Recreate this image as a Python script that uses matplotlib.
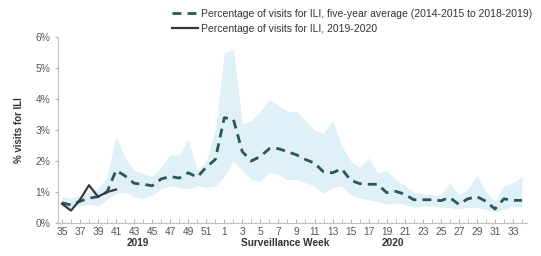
import matplotlib
matplotlib.use("Agg")
import matplotlib.pyplot as plt
import numpy as np

plt.rcParams['font.family'] = ['Liberation Sans', 'DejaVu Sans']

# surveillance weeks, 2019 wk 35 -> 2020 wk 34
weeks = list(range(35, 53)) + list(range(1, 35))

# five-year average (2014-2015 to 2018-2019), % of visits for ILI
avg_5yr = [0.65, 0.58, 0.70, 0.80, 0.85, 1.00, 1.70, 1.52, 1.28, 1.25, 1.20, 1.42,
           1.50, 1.45, 1.62, 1.48, 1.80, 2.05, 3.40, 3.35, 2.30, 2.00, 2.15, 2.40,
           2.40, 2.30, 2.20, 2.05, 1.93, 1.65, 1.62, 1.75, 1.38, 1.27, 1.25, 1.25,
           0.98, 1.02, 0.93, 0.75, 0.75, 0.75, 0.72, 0.82, 0.60, 0.78, 0.85, 0.70,
           0.45, 0.78, 0.73, 0.73]

# range of the five seasons (shaded band)
band_hi = [0.85, 0.80, 0.90, 1.00, 1.10, 1.50, 2.80, 2.10, 1.70, 1.60, 1.50, 1.80,
           2.20, 2.20, 2.70, 1.70, 2.00, 3.00, 5.50, 5.60, 3.20, 3.30, 3.60, 4.00,
           3.80, 3.60, 3.60, 3.30, 3.00, 2.90, 3.30, 2.50, 2.00, 1.80, 2.10, 1.60,
           1.70, 1.40, 1.20, 1.00, 0.95, 0.90, 0.90, 1.30, 0.90, 1.10, 1.55, 1.00,
           0.70, 1.20, 1.30, 1.50]
band_lo = [0.55, 0.50, 0.55, 0.60, 0.55, 0.75, 0.95, 1.00, 0.85, 0.80, 0.90, 1.10,
           1.20, 1.15, 1.10, 1.20, 1.15, 1.20, 1.50, 2.00, 1.70, 1.40, 1.35, 1.65,
           1.55, 1.40, 1.40, 1.30, 1.20, 0.95, 1.15, 1.20, 0.90, 0.80, 0.75, 0.70,
           0.60, 0.65, 0.60, 0.50, 0.55, 0.55, 0.50, 0.50, 0.45, 0.50, 0.50, 0.45,
           0.35, 0.45, 0.55, 0.50]

# current season 2019-2020 (weeks 35-41)
cur_season = [0.62, 0.40, 0.75, 1.22, 0.85, 1.00, 1.08]

x = np.arange(len(weeks))

fig = plt.figure(figsize=(5.41, 2.56), dpi=100)
ax = fig.add_axes([0.107, 0.129, 0.867, 0.726])

ax.fill_between(x, band_lo, band_hi, color='#dff0f6', lw=0)
l1, = ax.plot(x, avg_5yr, color='#2b5756', lw=2.0, dashes=(3.2, 2.2),
              label='Percentage of visits for ILI, five-year average (2014-2015 to 2018-2019)')
l2, = ax.plot(x[:len(cur_season)], cur_season, color='#3a3a3a', lw=1.6,
              label='Percentage of visits for ILI, 2019-2020')

ax.set_xlim(-0.45, 51.55)
ax.set_ylim(0, 6)
ax.set_yticks(np.arange(0, 7))
ax.set_yticklabels(['%d%%' % v for v in range(7)])
ax.set_xticks(x[::2])
ax.set_xticklabels([str(w) for w in weeks[::2]])
ax.set_xticks(x, minor=True)

for s in ['top', 'right']:
    ax.spines[s].set_visible(False)
for s in ['left', 'bottom']:
    ax.spines[s].set_color('#c0c0c0')
    ax.spines[s].set_linewidth(0.8)

ax.tick_params(axis='x', which='both', direction='in', length=3, color='#b0b0b0',
               labelsize=7.4, labelcolor='#555555', pad=3)
ax.tick_params(axis='y', direction='out', length=2.5, color='#b0b0b0',
               labelsize=7.4, labelcolor='#555555', pad=3)

ax.set_ylabel('% visits for ILI', fontsize=7, fontweight='bold', color='#333333', labelpad=8)
fig.text(285 / 541, 1 - 243 / 256, 'Surveillance Week', fontsize=7.2, fontweight='bold',
         color='#333333', ha='center', va='center')
fig.text(138 / 541, 1 - 243 / 256, '2019', fontsize=7.2, fontweight='bold',
         color='#333333', ha='center', va='center')
fig.text(393 / 541, 1 - 243 / 256, '2020', fontsize=7.2, fontweight='bold',
         color='#333333', ha='center', va='center')

fig.legend(handles=[l1, l2], loc='upper left', bbox_to_anchor=(172 / 541, 1 - 9 / 256),
           frameon=False, fontsize=7.5, handlelength=2.5, handletextpad=0.3,
           labelspacing=0.45, borderaxespad=0, borderpad=0, labelcolor='#333333')

fig.savefig('out.png', dpi=100)
